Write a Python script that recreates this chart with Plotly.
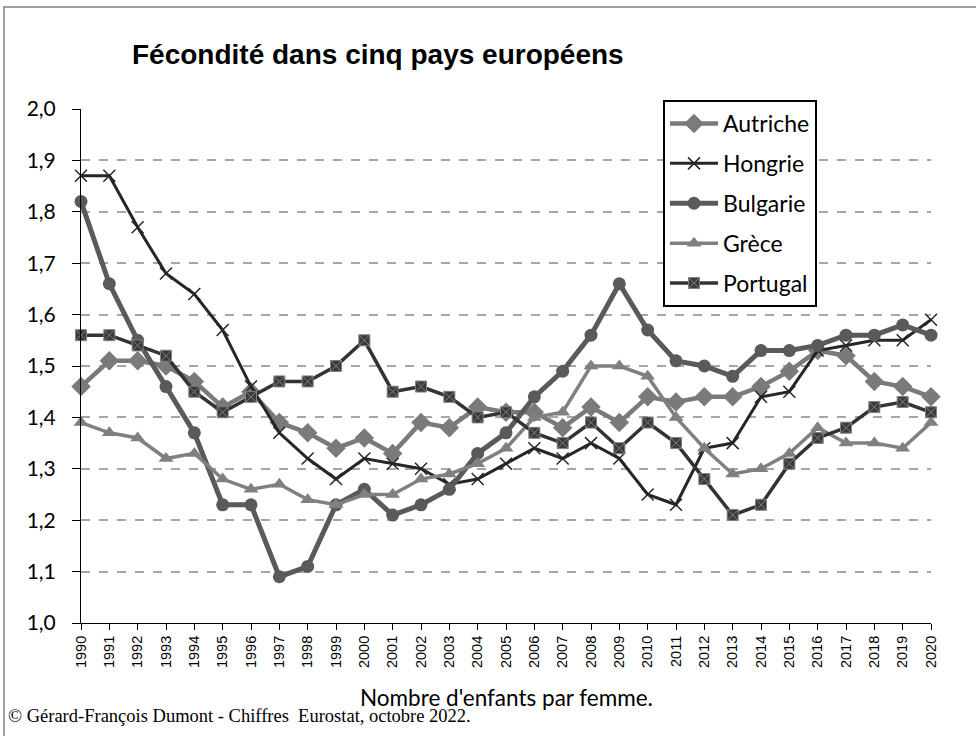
import plotly.graph_objects as go

annees = list(range(1990, 2021))

autriche = [1.46, 1.51, 1.51, 1.50, 1.47, 1.42, 1.45, 1.39, 1.37, 1.34, 1.36, 1.33, 1.39, 1.38,
            1.42, 1.41, 1.41, 1.38, 1.42, 1.39, 1.44, 1.43, 1.44, 1.44, 1.46, 1.49, 1.53, 1.52,
            1.47, 1.46, 1.44]
hongrie = [1.87, 1.87, 1.77, 1.68, 1.64, 1.57, 1.46, 1.37, 1.32, 1.28, 1.32, 1.31, 1.30, 1.27,
           1.28, 1.31, 1.34, 1.32, 1.35, 1.32, 1.25, 1.23, 1.34, 1.35, 1.44, 1.45, 1.53, 1.54,
           1.55, 1.55, 1.59]
bulgarie = [1.82, 1.66, 1.55, 1.46, 1.37, 1.23, 1.23, 1.09, 1.11, 1.23, 1.26, 1.21, 1.23, 1.26,
            1.33, 1.37, 1.44, 1.49, 1.56, 1.66, 1.57, 1.51, 1.50, 1.48, 1.53, 1.53, 1.54, 1.56,
            1.56, 1.58, 1.56]
grece = [1.39, 1.37, 1.36, 1.32, 1.33, 1.28, 1.26, 1.27, 1.24, 1.23, 1.25, 1.25, 1.28, 1.29,
         1.31, 1.34, 1.40, 1.41, 1.50, 1.50, 1.48, 1.40, 1.34, 1.29, 1.30, 1.33, 1.38, 1.35,
         1.35, 1.34, 1.39]
portugal = [1.56, 1.56, 1.54, 1.52, 1.45, 1.41, 1.44, 1.47, 1.47, 1.50, 1.55, 1.45, 1.46, 1.44,
            1.40, 1.41, 1.37, 1.35, 1.39, 1.34, 1.39, 1.35, 1.28, 1.21, 1.23, 1.31, 1.36, 1.38,
            1.42, 1.43, 1.41]

series = [
    ("Autriche", autriche, "#7a7a7a", 4.5, dict(symbol="diamond", size=15, color="#7a7a7a")),
    ("Hongrie", hongrie, "#262626", 3,
     dict(symbol="x-thin", size=12, color="#262626", line=dict(color="#262626", width=1.5))),
    ("Bulgarie", bulgarie, "#5a5a5a", 5, dict(symbol="circle", size=13, color="#5a5a5a")),
    ("Grèce", grece, "#808080", 3.5, dict(symbol="triangle-up", size=13, color="#808080")),
    ("Portugal", portugal, "#333333", 3.5,
     dict(symbol="square-x", size=11, color="#3a3a3a", line=dict(color="#808080", width=1))),
]

# conversion pixels -> coordonnées papier (zone de tracé 81..931 x 109..623)
def px(x):
    return (x - 81) / 850


def py(y):
    return (623 - y) / 514


fig = go.Figure()
for i, (nom, vals, couleur, largeur, marker) in enumerate(series):
    fig.add_trace(go.Scatter(
        x=annees, y=vals, name=nom, mode="lines+markers",
        line=dict(color=couleur, width=largeur),
        marker=marker, legendgroup=str(i),
        cliponaxis=False,
    ))

fig.update_layout(
    width=976, height=736,
    margin=dict(l=81, r=45, t=109, b=113),
    paper_bgcolor="white", plot_bgcolor="white",
    separators=", ",
    showlegend=True,
    legend=dict(
        x=px(663), y=py(100), xanchor="left", yanchor="top",
        bgcolor="white", bordercolor="black", borderwidth=2,
        font=dict(family="Lato, Open Sans, sans-serif", size=23, color="black"),
        itemwidth=48, tracegroupgap=7,
    ),
    xaxis=dict(
        range=[1990, 2020], dtick=1, tick0=1990,
        showgrid=False, zeroline=False,
        showline=True, linecolor="black", linewidth=1,
        ticks="outside", ticklen=6, tickcolor="black",
        tickangle=-90,
        tickfont=dict(family="Liberation Sans, Arial, sans-serif", size=14.5, color="black"),
    ),
    yaxis=dict(
        range=[1.0, 2.0], dtick=0.1, tick0=1.0, tickformat=".1f",
        showgrid=True, gridcolor="#a6a6a6", gridwidth=2, griddash="dash",
        zeroline=False,
        showline=True, linecolor="black", linewidth=1,
        ticks="outside", ticklen=8, tickcolor="black",
        ticklabelstandoff=12,
        tickfont=dict(family="Lato, Open Sans, sans-serif", size=21, color="black"),
    ),
    annotations=[
        dict(text="<b>Fécondité dans cinq pays européens</b>", xref="paper", yref="paper",
             x=px(378), y=py(55), xanchor="center", yanchor="middle", showarrow=False,
             font=dict(family="Liberation Sans, Arial, sans-serif", size=28, color="black")),
        dict(text="Nombre d'enfants par femme.", xref="paper", yref="paper",
             x=px(506), y=py(697), xanchor="center", yanchor="middle", showarrow=False,
             font=dict(family="Lato, Open Sans, sans-serif", size=22.5, color="black")),
        dict(text="© Gérard-François Dumont - Chiffres  Eurostat, octobre 2022.",
             xref="paper", yref="paper",
             x=px(6), y=py(716), xanchor="left", yanchor="middle", showarrow=False,
             font=dict(family="Liberation Serif, Times New Roman, serif", size=18.5, color="black")),
    ],
    shapes=[
        dict(type="rect", xref="paper", yref="paper",
             x0=px(4), x1=px(990), y0=py(750), y1=py(7),
             line=dict(color="#808080", width=1.5), fillcolor="rgba(0,0,0,0)", layer="below"),
    ],
)

fig.write_html("out.html", config={"displayModeBar": False},
               post_script="document.body.style.margin='0';")
